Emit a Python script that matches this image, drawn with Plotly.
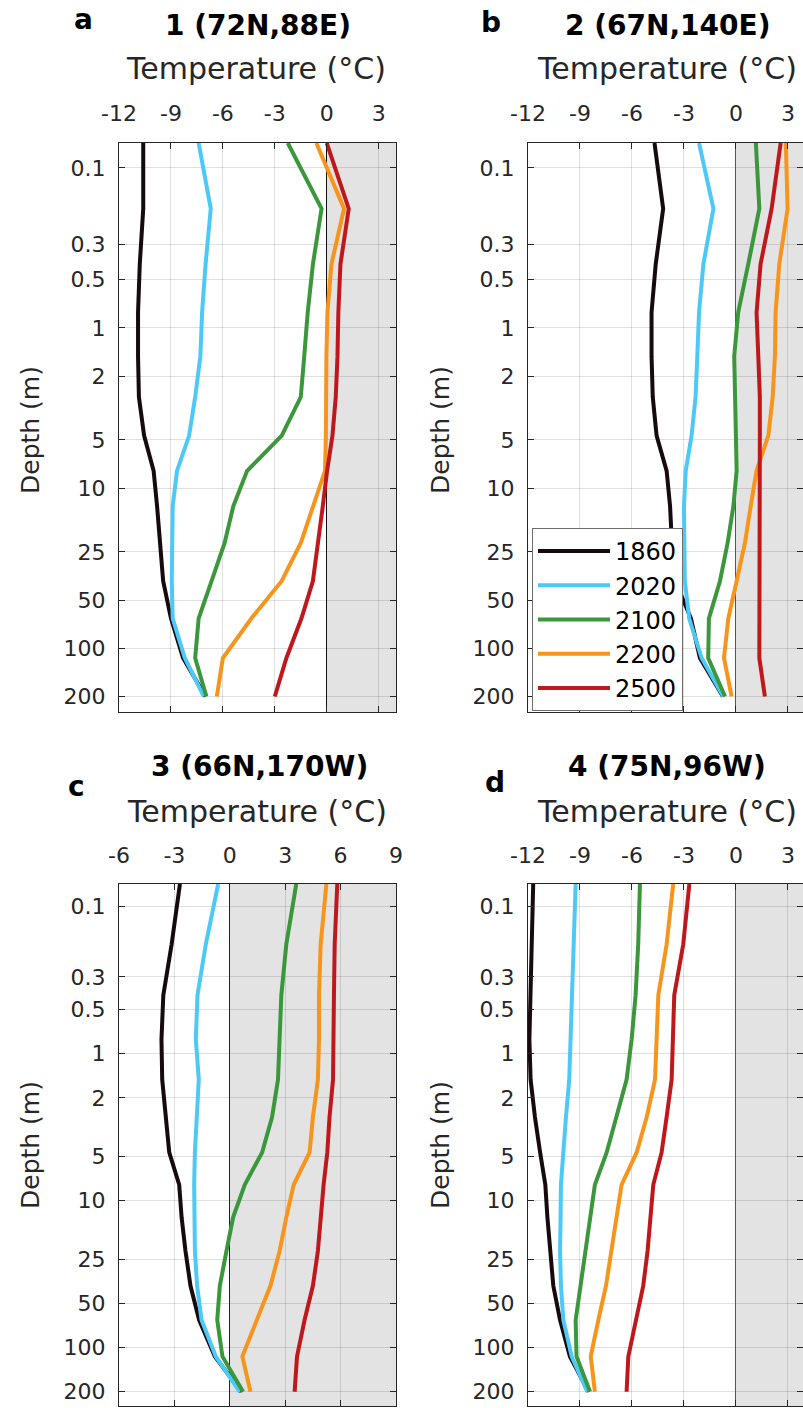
import math
import plotly.graph_objects as go

# ---------------- data ----------------
depths = [0.07, 0.18, 0.4, 0.8, 1.5, 2.7, 4.7, 7.8, 13, 22, 38, 65, 115, 200]
years = ["1860", "2020", "2100", "2200", "2500"]
colors = ["#160a0f", "#4cc9f7", "#3b973b", "#f6941c", "#c0171d"]

panel_titles = ["1 (72N,88E)", "2 (67N,140E)", "3 (66N,170W)", "4 (75N,96W)"]
panel_letters = ["a", "b", "c", "d"]

p1_1860 = [-10.6, -10.6, -10.8, -10.9, -10.9, -10.85, -10.55, -10.0, -9.8, -9.6, -9.45, -9.0, -8.3, -7.0]
p1_2020 = [-7.4, -6.7, -7.0, -7.2, -7.3, -7.6, -7.95, -8.65, -8.9, -8.95, -8.95, -8.9, -8.2, -7.1]
p1_2100 = [-2.25, -0.3, -0.8, -1.1, -1.3, -1.5, -2.6, -4.6, -5.4, -5.9, -6.65, -7.4, -7.6, -6.95]
p1_2200 = [-0.6, 1.0, 0.27, 0.04, -0.02, -0.02, -0.05, -0.1, -0.8, -1.5, -2.6, -4.35, -6.0, -6.35]
p1_2500 = [0.0, 1.27, 0.79, 0.67, 0.62, 0.52, 0.33, 0.02, -0.23, -0.5, -0.8, -1.46, -2.33, -3.0]

p2_1860 = [-4.7, -4.2, -4.63, -4.87, -4.87, -4.8, -4.58, -4.0, -3.8, -3.7, -3.5, -2.6, -2.08, -0.75]
p2_2020 = [-2.13, -1.3, -1.88, -2.13, -2.23, -2.33, -2.56, -2.9, -3.0, -3.0, -2.95, -2.7, -1.98, -0.73]
p2_2100 = [1.15, 1.35, 0.71, 0.13, -0.1, -0.06, 0.0, 0.04, -0.15, -0.48, -0.92, -1.56, -1.6, -0.63]
p2_2200 = [2.88, 2.98, 2.5, 2.29, 2.25, 2.12, 1.87, 1.19, 0.85, 0.52, 0.04, -0.44, -0.69, -0.25]
p2_2500 = [2.58, 2.06, 1.42, 1.19, 1.29, 1.38, 1.38, 1.38, 1.38, 1.38, 1.38, 1.38, 1.35, 1.67]

p3_1860 = [-2.7, -3.15, -3.6, -3.7, -3.66, -3.48, -3.28, -2.74, -2.61, -2.4, -2.13, -1.66, -0.81, 0.63]
p3_2020 = [-0.63, -1.3, -1.75, -1.84, -1.68, -1.8, -1.89, -1.93, -1.93, -1.89, -1.77, -1.53, -0.76, 0.54]
p3_2100 = [3.6, 3.06, 2.79, 2.7, 2.61, 2.29, 1.75, 0.81, 0.18, -0.18, -0.54, -0.68, -0.4, 0.72]
p3_2200 = [5.23, 4.92, 4.83, 4.83, 4.77, 4.5, 4.32, 3.46, 3.06, 2.7, 2.2, 1.44, 0.68, 1.12]
p3_2500 = [5.82, 5.68, 5.64, 5.62, 5.59, 5.4, 5.28, 5.08, 4.95, 4.77, 4.5, 4.05, 3.64, 3.51]

p4_1860 = [-11.7, -11.79, -11.89, -11.92, -11.85, -11.6, -11.3, -11.0, -10.88, -10.73, -10.54, -10.15, -9.58, -8.5]
p4_2020 = [-9.25, -9.35, -9.44, -9.52, -9.62, -9.81, -9.96, -10.1, -10.12, -10.15, -10.1, -9.96, -9.48, -8.58]
p4_2100 = [-5.54, -5.64, -5.79, -6.02, -6.31, -6.89, -7.46, -8.14, -8.42, -8.71, -9.0, -9.25, -9.2, -8.42]
p4_2200 = [-3.62, -4.0, -4.48, -4.58, -4.67, -5.15, -5.73, -6.6, -6.89, -7.17, -7.5, -7.94, -8.38, -8.14]
p4_2500 = [-2.69, -3.04, -3.56, -3.65, -3.71, -4.0, -4.29, -4.77, -4.92, -5.1, -5.35, -5.77, -6.21, -6.31]

panels = [
    [p1_1860, p1_2020, p1_2100, p1_2200, p1_2500],
    [p2_1860, p2_2020, p2_2100, p2_2200, p2_2500],
    [p3_1860, p3_2020, p3_2100, p3_2200, p3_2500],
    [p4_1860, p4_2020, p4_2100, p4_2200, p4_2500],
]

x_ticks_a = [-12, -9, -6, -3, 0, 3]
x_ticks_c = [-6, -3, 0, 3, 6, 9]
x_ticks = [x_ticks_a, x_ticks_a, x_ticks_c, x_ticks_a]
x_ranges = [[-12, 4], [-12, 3.87], [-6, 9], [-12, 3.87]]
y_ticks = [0.1, 0.3, 0.5, 1, 2, 5, 10, 25, 50, 100, 200]
y_ticktext = ["0.1", "0.3", "0.5", "1", "2", "5", "10", "25", "50", "100", "200"]
depth_range = [250, 0.07]

# ---------------- layout geometry ----------------
W, H = 803, 1408
def px(x):
    return x / W
def py(y):
    return 1 - y / H

x_domains = [[px(119), px(396)], [px(528), 1.0], [px(119), px(396)], [px(528), 1.0]]
y_domains = [[py(712), py(143)], [py(712), py(143)], [py(1406), py(884)], [py(1406), py(884)]]
label_standoff = [12, 12, 11, 11]
zero_colors = ["#111111", "#555555", "#222222", "#555555"]

FONT = "DejaVu Sans, Liberation Sans, Arial, sans-serif"
TXT = "#262626"

fig = go.Figure()

for i, series in enumerate(panels):
    xa = "x" if i == 0 else f"x{i+1}"
    ya = "y" if i == 0 else f"y{i+1}"
    for j, vals in enumerate(series):
        fig.add_trace(go.Scatter(
            x=vals, y=depths, mode="lines", name=years[j],
            line=dict(color=colors[j], width=4),
            xaxis=xa, yaxis=ya, showlegend=(i == 1), legendrank=j + 1,
        ))
    # shaded region above 0 C
    fig.add_shape(type="rect", xref=xa, yref=f"{ya} domain",
                  x0=0, x1=x_ranges[i][1], y0=0, y1=1,
                  fillcolor="#e3e3e3", line=dict(width=0), layer="below")

    ax_common = dict(
        showline=True, linecolor=TXT, linewidth=1, mirror="ticks",
        ticks="inside", ticklen=6, tickcolor=TXT, tickwidth=1,
        showgrid=True, gridcolor="rgba(0,0,0,0.12)", gridwidth=1,
        tickfont=dict(family=FONT, size=22, color=TXT), automargin=False,
    )
    xkey = "xaxis" if i == 0 else f"xaxis{i+1}"
    ykey = "yaxis" if i == 0 else f"yaxis{i+1}"
    fig.update_layout(**{
        xkey: dict(ax_common, domain=x_domains[i], anchor=ya, side="top",
                   range=x_ranges[i], tickvals=x_ticks[i],
                   ticktext=[str(v) for v in x_ticks[i]],
                   zeroline=True, zerolinecolor=zero_colors[i], zerolinewidth=1,
                   ticklabelstandoff=label_standoff[i]),
        ykey: dict(ax_common, domain=y_domains[i], anchor=xa, type="log",
                   range=[math.log10(depth_range[0]), math.log10(depth_range[1])],
                   tickvals=y_ticks, ticktext=y_ticktext, zeroline=False,
                   ticklabelstandoff=8),
    })

# ---------------- annotations ----------------
ann = []
letter_pos = [(83, 20), (491, 22), (76, 786), (495, 782)]
title_pos = [(258, 26), (667, 26), (259, 766), (667, 766)]
temp_pos = [(256, 69), (667, 69), (257, 811), (667, 811)]
depth_pos = [(30, 430), (440, 430), (30, 1145), (440, 1145)]
for i in range(4):
    ann.append(dict(text=f"<b>{panel_letters[i]}</b>", x=px(letter_pos[i][0]), y=py(letter_pos[i][1]),
                    xref="paper", yref="paper", showarrow=False, xanchor="center", yanchor="middle",
                    font=dict(family=FONT, size=28, color="black")))
    ann.append(dict(text=f"<b>{panel_titles[i]}</b>", x=px(title_pos[i][0]), y=py(title_pos[i][1]),
                    xref="paper", yref="paper", showarrow=False, xanchor="center", yanchor="middle",
                    font=dict(family=FONT, size=28, color="black")))
    ann.append(dict(text="Temperature (°C)", x=px(temp_pos[i][0]), y=py(temp_pos[i][1]),
                    xref="paper", yref="paper", showarrow=False, xanchor="center", yanchor="middle",
                    font=dict(family=FONT, size=30, color=TXT)))
    ann.append(dict(text="Depth (m)", x=px(depth_pos[i][0]), y=py(depth_pos[i][1]),
                    xref="paper", yref="paper", showarrow=False, xanchor="center", yanchor="middle",
                    textangle=-90, font=dict(family=FONT, size=25, color=TXT)))

fig.update_layout(
    width=W, height=H, autosize=False,
    margin=dict(l=0, r=0, t=0, b=0, autoexpand=False),
    paper_bgcolor="white", plot_bgcolor="white",
    annotations=ann,
    legend=dict(x=px(532), y=py(528), xanchor="left", yanchor="top",
                bgcolor="white", bordercolor="#6e6e6e", borderwidth=1,
                font=dict(family=FONT, size=24, color="black"),
                tracegroupgap=0, itemwidth=72),
)

fig.write_html(
    "out.html",
    config={"displayModeBar": False},
    post_script="document.body.style.margin='0px';document.body.style.overflow='hidden';",
)
